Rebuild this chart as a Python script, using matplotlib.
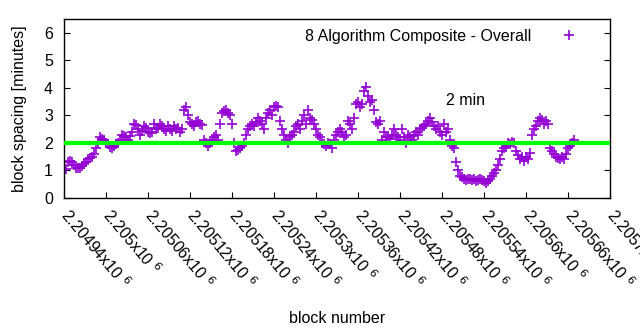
import matplotlib
matplotlib.use('Agg')
import matplotlib.pyplot as plt
import numpy as np

plt.rcParams['font.family'] = ['Liberation Sans', 'DejaVu Sans']

# block spacing in minutes (one value every ~3 blocks)
spacing = [1.05, 1.3, 1.35, 1.3, 1.2, 1.1, 1.1, 1.1, 1.15, 1.25, 1.3, 1.4, 1.45, 1.5, 1.6, 1.8, 2.0,
           2.2, 2.15, 2.1, 2.0, 1.95, 1.85, 1.8, 1.9, 1.95, 2.0, 2.1, 2.3, 2.25, 2.2, 2.1, 2.25,
           2.4, 2.7, 2.65, 2.5, 2.3, 2.45, 2.6, 2.55, 2.4, 2.35, 2.4, 2.7, 2.5, 2.55, 2.7, 2.6,
           2.5, 2.45, 2.6, 2.5, 2.45, 2.6, 2.5, 2.55, 2.4, 2.5, 3.2, 3.3, 3.0, 2.75, 2.7, 2.6,
           2.75, 2.8, 2.7, 2.65, 2.1, 2.0, 1.9, 2.0, 2.1, 2.2, 2.3, 2.1, 2.7, 3.1, 3.15, 3.2,
           3.1, 3.0, 2.7, 2.0, 1.7, 1.75, 1.8, 1.9, 2.0, 2.3, 2.5, 2.6, 2.7, 2.6, 2.75, 2.9,
           2.8, 2.7, 2.5, 2.9, 3.1, 3.2, 3.0, 3.3, 3.35, 3.3, 2.8, 2.5, 2.3, 2.1, 2.0, 2.2,
           2.3, 2.4, 2.6, 2.7, 2.5, 2.8, 3.0, 2.7, 3.2, 2.9, 2.85, 2.7, 2.5, 2.3, 2.2, 2.0,
           1.95, 1.9, 2.0, 1.95, 1.8, 2.1, 2.3, 2.4, 2.5, 2.4, 2.2, 2.3, 2.8, 2.7, 2.5, 2.9,
           3.4, 3.5, 3.3, 3.4, 3.9, 4.05, 3.7, 3.5, 3.55, 3.2, 2.75, 2.7, 2.8, 2.1, 2.4, 2.2,
           2.2, 2.15, 2.3, 2.5, 2.3, 2.2, 2.1, 2.5, 2.2, 2.0, 2.3, 2.2, 2.1, 2.3, 2.4, 2.3,
           2.5, 2.55, 2.6, 2.7, 2.8, 2.9, 2.75, 2.6, 2.5, 2.6, 2.4, 2.3, 2.7, 2.4, 2.5, 2.1,
           1.9, 1.8, 1.3, 1.0, 0.8, 0.75, 0.7, 0.65, 0.7, 0.7, 0.65, 0.7, 0.6, 0.65, 0.7, 0.65,
           0.6, 0.55, 0.6, 0.7, 0.8, 0.9, 1.0, 1.2, 1.4, 1.7, 1.8, 1.9, 2.0, 1.95, 2.05, 2.0,
           1.7, 1.55, 1.4, 1.5, 1.35, 1.5, 1.4, 1.65, 2.3, 2.5, 2.6, 2.8, 2.9, 2.85, 2.7, 2.8,
           2.7, 1.8, 1.7, 1.6, 1.5, 1.45, 1.4, 1.5, 1.4, 1.6, 1.8, 1.9, 2.0, 2.1]
first_block = 2204943
last_block = 2205669
blocks = np.linspace(first_block, last_block, len(spacing))

target = 2.0
xticks = np.arange(2204940, 2205721, 60)

fs = 11.5
fig = plt.figure(figsize=(6.4, 3.3), dpi=100)
ax = fig.add_axes([0.1, 0.4, 0.853, 0.542])

ax.plot(blocks, spacing, '+', color='#9400d3', markersize=7, markeredgewidth=1.2,
        label='8 Algorithm Composite - Overall')
ax.axhline(target, color='#00ff00', linewidth=3, zorder=3)
ax.text(2205486, 3.53, '2 min', fontsize=fs, ha='left', va='center')

ax.set_xlim(2204940, 2205720)
ax.set_ylim(0, 6.5)
ax.set_yticks(range(7))
ax.set_xticks(xticks)
ax.set_xticklabels(['%gx10 $^{6}$' % (t / 1e6) for t in xticks],
                   rotation=-50, ha='left', va='center', rotation_mode='anchor', fontsize=12)
ax.tick_params(axis='both', direction='in', labelsize=fs, length=4)
ax.tick_params(axis='y', right=True, pad=8)
ax.tick_params(axis='x', pad=10)
ax.set_xlabel('block number', fontsize=fs, labelpad=14)
ax.set_ylabel('block spacing [minutes]', fontsize=fs, labelpad=12)
for s in ax.spines.values():
    s.set_linewidth(1)

ax.legend(loc='upper right', frameon=False, markerfirst=False, fontsize=fs,
          handlelength=1.5, handletextpad=1.6, borderaxespad=0.2,
          bbox_to_anchor=(0.965, 1.0))

fig.savefig('out.png', dpi=100)
